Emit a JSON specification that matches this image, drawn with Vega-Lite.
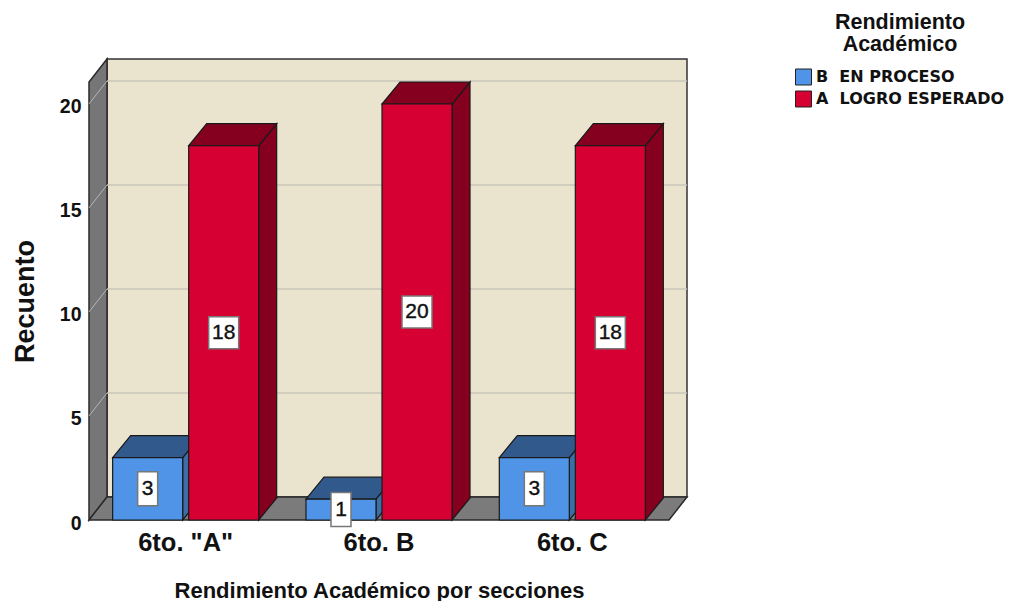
{
"$schema":"https://vega.github.io/schema/vega-lite/v6.json",
"width":580,"height":462,
"autosize":{"type":"none"},
"padding":{"left":89,"top":58,"right":352,"bottom":81},
"background":"white",
"config":{"view":{"stroke":null},"font":"Liberation Sans"},
"datasets":{
"barras":[
{"seccion":"6to. \"A\"","rendimiento":"B\u00a0\u00a0EN PROCESO","recuento":3},
{"seccion":"6to. \"A\"","rendimiento":"A\u00a0\u00a0LOGRO ESPERADO","recuento":18},
{"seccion":"6to. B","rendimiento":"B\u00a0\u00a0EN PROCESO","recuento":1},
{"seccion":"6to. B","rendimiento":"A\u00a0\u00a0LOGRO ESPERADO","recuento":20},
{"seccion":"6to. C","rendimiento":"B\u00a0\u00a0EN PROCESO","recuento":3},
{"seccion":"6to. C","rendimiento":"A\u00a0\u00a0LOGRO ESPERADO","recuento":18}
],
"marco":[{"seccion":"6to. B","recuento":0}],
"rejilla":[{"seccion":"6to. \"A\"","recuento":5},{"seccion":"6to. \"A\"","recuento":10},{"seccion":"6to. \"A\"","recuento":15},{"seccion":"6to. \"A\"","recuento":20}]
},
"encoding":{
"x":{"field":"seccion","type":"nominal","sort":["6to. \"A\"","6to. B","6to. C"],"scale":{"domain":["6to. \"A\"","6to. B","6to. C"],"paddingInner":0,"paddingOuter":0},
 "axis":{"title":"Rendimiento Académico por secciones","titleFontSize":22,"titleFontWeight":"bold","titleColor":"#111111","titleY":60,"labelAngle":0,"labelFontSize":25.5,"labelFontWeight":"bold","labelColor":"#111111","labelPadding":10,"ticks":false,"domain":false}},
"y":{"field":"recuento","type":"quantitative","scale":{"domain":[0,22.2115],"nice":false,"zero":false},"axis":null}
},
"layer":[
{"data":{"name":"marco"},"mark":{"type":"point","filled":true,"opacity":1,"size":4,"fill":"#eae4ce","stroke":"#333333","strokeWidth":1.5,"shape":"M-272 -461 L308 -461 L308 -23 L-272 -23 Z"}},
{"data":{"name":"marco"},"mark":{"type":"point","filled":true,"opacity":1,"size":4,"fill":"#767676","stroke":"#2a2a2a","strokeWidth":1.5,"shape":"M-290 0 L-290 -438 L-272 -461 L-272 -23 Z"}},
{"data":{"name":"marco"},"mark":{"type":"point","filled":true,"opacity":1,"size":4,"fill":"#7b7b7b","stroke":"#2a2a2a","strokeWidth":1.5,"shape":"M-290 0 L290 0 L308 -23 L-272 -23 Z"}},
{"data":{"name":"rejilla"},"mark":{"type":"rule","stroke":"#c9c6ba","strokeWidth":1.5,"xOffset":18,"x2Offset":18,"yOffset":-23},"encoding":{"x":{"value":0},"x2":{"value":580}}},
{"data":{"name":"rejilla"},"mark":{"type":"point","filled":false,"opacity":1,"size":4,"stroke":"#b5b5b5","strokeWidth":1,"shape":"M-96.7 0 L-78.7 -23"}},
{"data":{"name":"barras"},"mark":{"type":"point","filled":true,"opacity":1,"size":4,"stroke":"#1a1a1a","strokeWidth":1.2},
 "encoding":{"xOffset":{"field":"rendimiento","type":"nominal","sort":["B\u00a0\u00a0EN PROCESO","A\u00a0\u00a0LOGRO ESPERADO"],"scale":{"domain":["B\u00a0\u00a0EN PROCESO","A\u00a0\u00a0LOGRO ESPERADO"],"paddingInner":0.079,"paddingOuter":0.311}},
 "y":{"datum":0,"scale":{"domain":[0,22.2115],"nice":false,"zero":false},"axis":null},
 "shape":{"field":"recuento","type":"nominal","legend":null,"scale":{"domain":[1,3,18,20],"range":["M35 0 L35 -20.8 L53 -42.8 L53 -22 Z","M35 0 L35 -62.4 L53 -84.4 L53 -22 Z","M35 0 L35 -374.4 L53 -396.4 L53 -22 Z","M35 0 L35 -416 L53 -438 L53 -22 Z"]}},
 "fill":{"field":"rendimiento","type":"nominal","scale":{"domain":["B\u00a0\u00a0EN PROCESO","A\u00a0\u00a0LOGRO ESPERADO"],"range":["#3a6ea5","#85001f"]},"legend":null}}},
{"data":{"name":"barras"},"mark":{"type":"point","filled":true,"opacity":1,"size":4,"stroke":"#1a1a1a","strokeWidth":1.2,"shape":"M-35 0 L35 0 L53 -22 L-17 -22 Z"},
 "encoding":{"xOffset":{"field":"rendimiento","type":"nominal","sort":["B\u00a0\u00a0EN PROCESO","A\u00a0\u00a0LOGRO ESPERADO"],"scale":{"domain":["B\u00a0\u00a0EN PROCESO","A\u00a0\u00a0LOGRO ESPERADO"],"paddingInner":0.079,"paddingOuter":0.311}},
 "fill":{"field":"rendimiento","type":"nominal","scale":{"domain":["B\u00a0\u00a0EN PROCESO","A\u00a0\u00a0LOGRO ESPERADO"],"range":["#32598c","#85001f"]},"legend":null}}},
{"data":{"name":"barras"},"mark":{"type":"bar","stroke":"#1a1a1a","strokeWidth":1.2},
 "encoding":{"xOffset":{"field":"rendimiento","type":"nominal","sort":["B\u00a0\u00a0EN PROCESO","A\u00a0\u00a0LOGRO ESPERADO"],"scale":{"domain":["B\u00a0\u00a0EN PROCESO","A\u00a0\u00a0LOGRO ESPERADO"],"paddingInner":0.079,"paddingOuter":0.311}},
 "y2":{"datum":0},
 "fill":{"field":"rendimiento","type":"nominal","scale":{"domain":["B\u00a0\u00a0EN PROCESO","A\u00a0\u00a0LOGRO ESPERADO"],"range":["#4f94e6","#d60032"]},
 "legend":{"orient":"none","legendX":706,"legendY":-46,"title":["Rendimiento","Académico"],"titleFont":"Liberation Sans","titleFontSize":21.5,"titleFontWeight":"bold","titleColor":"#111111","titleAlign":"center","titleAnchor":"middle","titleLineHeight":22,"titlePadding":13,"labelFont":"DejaVu Sans","labelFontSize":16,"labelFontWeight":"bold","labelColor":"#111111","labelOffset":4,"symbolType":"square","symbolSize":256,"symbolStrokeColor":"#222222","symbolStrokeWidth":1,"rowPadding":1,"labelLimit":300}}}},
{"data":{"name":"barras"},"mark":{"type":"point","filled":true,"opacity":1,"size":4,"fill":"white","stroke":"#777777","strokeWidth":1.5},
 "encoding":{"xOffset":{"field":"rendimiento","type":"nominal","sort":["B\u00a0\u00a0EN PROCESO","A\u00a0\u00a0LOGRO ESPERADO"],"scale":{"domain":["B\u00a0\u00a0EN PROCESO","A\u00a0\u00a0LOGRO ESPERADO"],"paddingInner":0.079,"paddingOuter":0.311}},
 "y":{"field":"recuento","type":"quantitative","scale":{"domain":[0,44.423],"nice":false,"zero":false},"axis":null},
 "shape":{"field":"recuento","type":"nominal","legend":null,"scale":{"domain":[1,3,18,20],"range":["M-10 -17 L10 -17 L10 17 L-10 17 Z","M-10 -17 L10 -17 L10 17 L-10 17 Z","M-15 -16 L15 -16 L15 16 L-15 16 Z","M-15 -16 L15 -16 L15 16 L-15 16 Z"]}}}},
{"data":{"name":"barras"},"mark":{"type":"text","fontSize":21,"fontWeight":"normal","color":"#111111","stroke":"#111111","strokeWidth":0.4,"baseline":"middle","align":"center"},
 "encoding":{"xOffset":{"field":"rendimiento","type":"nominal","sort":["B\u00a0\u00a0EN PROCESO","A\u00a0\u00a0LOGRO ESPERADO"],"scale":{"domain":["B\u00a0\u00a0EN PROCESO","A\u00a0\u00a0LOGRO ESPERADO"],"paddingInner":0.079,"paddingOuter":0.311}},
 "y":{"field":"recuento","type":"quantitative","scale":{"domain":[0,44.423],"nice":false,"zero":false},"axis":null},
 "text":{"field":"recuento","type":"quantitative"}}},
{"data":{"name":"barras"},"mark":{"type":"bar","opacity":0},
 "encoding":{
 "y":{"field":"recuento","type":"quantitative","scale":{"domain":[0,22.2115],"nice":false,"zero":false},
  "axis":{"title":"Recuento","titleFontSize":27,"titleFontWeight":"bold","titleColor":"#111111","titleX":-50,"titleY":243,"values":[0,5,10,15,20],"grid":false,"ticks":false,"domain":false,"labelFontSize":19.5,"labelFontWeight":"bold","labelColor":"#111111","labelPadding":8,"labelOffset":3}}}}
],
"resolve":{"scale":{"y":"independent","fill":"independent","shape":"independent"}}
}
